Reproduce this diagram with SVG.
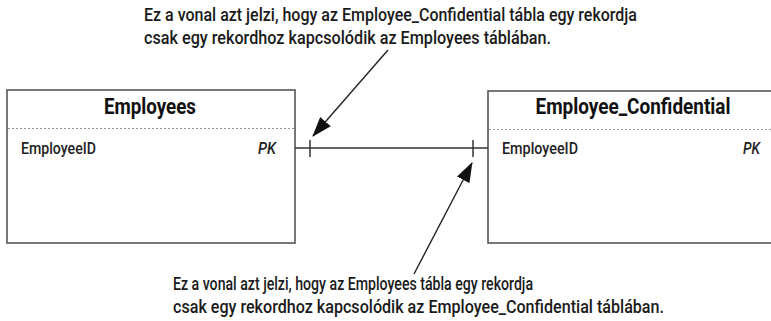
<svg xmlns="http://www.w3.org/2000/svg" width="771" height="321" viewBox="0 0 771 321">
  <defs>
    <marker id="head" viewBox="0 0 20 14" refX="19" refY="7" markerWidth="20" markerHeight="14" markerUnits="userSpaceOnUse" orient="auto">
      <path d="M0,0 L20,7 L0,14 Z" fill="#111"/>
    </marker>
    <style>
      .box { fill: #fff; stroke: #555; stroke-width: 1.6; }
      .sep { stroke: #999; stroke-width: 1; stroke-dasharray: 2 2; }
      .title { font-family: Roboto, "Liberation Sans", Arial, sans-serif; font-weight: bold; font-size: 22px; fill: #111; text-anchor: middle; }
      .field { font-family: Roboto, "Liberation Sans", Arial, sans-serif; font-weight: 500; font-size: 16px; fill: #222; }
      .key { font-family: Roboto, "Liberation Sans", Arial, sans-serif; font-weight: 500; font-size: 16px; font-style: italic; fill: #222; }
      .note { font-family: Roboto, "Liberation Sans", Arial, sans-serif; font-weight: 500; font-size: 18px; fill: #1a1a1a; }
      .rel { stroke: #333; stroke-width: 1.5; fill: none; }
      .pointer { stroke: #222; stroke-width: 1.4; fill: none; marker-end: url(#head); }
    </style>
  </defs>
  <rect width="771" height="321" fill="#fff"/>

  <!-- Employees table -->
  <g id="employees">
    <rect class="box" x="7" y="90" width="288" height="153"/>
    <line class="sep" x1="8" y1="128.5" x2="294" y2="128.5"/>
    <text class="title" x="150" y="113.5" textLength="92" lengthAdjust="spacingAndGlyphs">Employees</text>
    <text class="field" x="21" y="153.5" textLength="75" lengthAdjust="spacingAndGlyphs">EmployeeID</text>
    <text class="key" x="258" y="153.5" textLength="18" lengthAdjust="spacingAndGlyphs">PK</text>
  </g>

  <!-- Employee_Confidential table -->
  <g id="employee-confidential">
    <rect class="box" x="488" y="91" width="288" height="152"/>
    <line class="sep" x1="489" y1="129.5" x2="771" y2="129.5"/>
    <text class="title" x="633" y="113.5" textLength="195" lengthAdjust="spacingAndGlyphs">Employee_Confidential</text>
    <text class="field" x="502" y="153.5" textLength="76" lengthAdjust="spacingAndGlyphs">EmployeeID</text>
    <text class="key" x="743" y="153.5" textLength="17" lengthAdjust="spacingAndGlyphs">PK</text>
  </g>

  <!-- one-to-one relationship line with bars at both ends -->
  <g id="connectors">
    <line class="rel" x1="295" y1="148" x2="488" y2="148"/>
    <line class="rel" x1="310" y1="140" x2="310" y2="157"/>
    <line class="rel" x1="473" y1="140" x2="473" y2="157"/>
    <line class="pointer" x1="388" y1="50" x2="313" y2="136"/>
    <line class="pointer" x1="414" y1="274" x2="472" y2="163"/>
  </g>

  <!-- explanatory notes -->
  <g id="note-top">
    <text class="note" x="144" y="21" textLength="493" lengthAdjust="spacingAndGlyphs">Ez a vonal azt jelzi, hogy az Employee_Confidential tábla egy rekordja</text>
    <text class="note" x="144" y="44" textLength="407" lengthAdjust="spacingAndGlyphs">csak egy rekordhoz kapcsolódik az Employees táblában.</text>
  </g>
  <g id="note-bottom">
    <text class="note" x="173" y="290" textLength="360" lengthAdjust="spacingAndGlyphs">Ez a vonal azt jelzi, hogy az Employees tábla egy rekordja</text>
    <text class="note" x="173" y="313" textLength="491" lengthAdjust="spacingAndGlyphs">csak egy rekordhoz kapcsolódik az Employee_Confidential táblában.</text>
  </g>
</svg>
